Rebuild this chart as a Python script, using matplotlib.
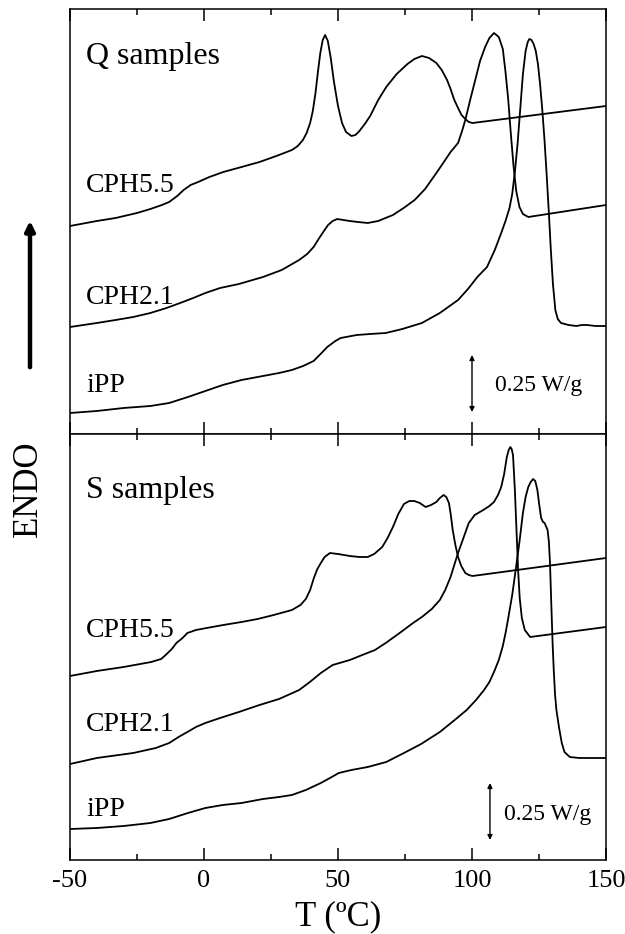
import matplotlib
matplotlib.use('Agg')
import matplotlib.pyplot as plt
from matplotlib.patches import FancyArrowPatch
from matplotlib.ticker import MultipleLocator

plt.rcParams['font.family'] = ['Liberation Serif', 'DejaVu Serif']

# ---------------- data (heat flow in arbitrary offset units, 57 units = 0.25 W/g) -------------
# Q samples
q_cph55_T = [-50, -40, -33, -25, -20, -15.7, -13, -10, -7.6, -5, -2.2, 2, 7.2, 14, 20.7, 27, 32.8, 35,
             36.9, 38.3, 39.6, 40.6, 41.6, 42.5, 43.4, 44.3, 45.2, 46.2, 47.3, 48.5, 50, 51.5, 53, 55,
             56.5, 58, 60, 62, 65, 68, 71.9, 75.9, 78.5, 81.3, 84, 86.7, 88.7, 90.7, 92, 93.4, 94.8,
             96.1, 97.5, 98.8, 100.2, 150]
q_cph55_H = [208, 213, 216, 221, 225, 229, 232, 238, 244, 249, 252, 257, 262, 267, 272, 278, 284, 288,
             294, 301, 311, 323, 341, 362, 381, 394, 399, 393, 376, 352, 328, 311, 302, 298,
             299, 303, 310, 318, 334, 347, 360, 370, 375, 378, 376, 371, 364, 354, 345, 334, 326,
             319, 315, 312, 311, 328]

q_cph21_T = [-50, -40, -33, -26.4, -20, -14, -8.9, -4, 0.5, 6, 13, 22, 29, 35.5, 38.5, 40.9, 43, 45,
             46.3, 48, 49.7, 52, 54.4, 57.5, 61.1, 65, 70.5, 74.5, 78.6, 82.5, 86.7, 89.5, 92, 94.8,
             96.3, 97.5, 99.5, 101.5, 103, 104.9, 106.5, 108.2, 110, 111.5, 112.5, 113.5, 114.5, 115.5,
             116.5, 117.7, 119, 121, 150]
q_cph21_H = [107, 111, 114, 117, 121, 126, 131, 136, 141, 146, 150, 157, 164, 174, 180, 187, 196, 204,
             209, 213, 215, 214, 213, 212, 211, 213, 219, 226, 234, 245, 261, 272, 282, 291,
             303, 314, 336, 357, 373, 387, 396, 401, 397, 385, 362, 335, 300, 268,
             243, 227, 220, 217, 229]

q_ipp_T = [-50, -40, -30, -20, -13, -6, 0.5, 7, 14, 22, 28, 32.8, 37, 40.9, 43.5, 46, 49, 51, 53, 57,
           62, 67.8, 74, 81.3, 88, 94.8, 98.5, 102, 105.6, 108.5, 110.9, 112.5, 114, 115, 116, 117, 118,
           119, 120, 120.8, 121.4, 122.2, 123, 123.8, 124.6, 125.4, 126.2, 127, 127.8, 128.6, 129.4,
           130.2, 131.1, 132, 133.2, 136, 139, 141, 143, 146, 150]
q_ipp_H = [21, 23, 26, 28, 31, 37, 43, 49, 54, 58, 61, 64, 68, 73, 80, 87, 93, 96, 97, 99,
           100, 101, 105, 111, 121, 134, 145, 157, 167, 184, 201, 213, 226, 240, 262, 290, 325,
           360, 383, 392, 395, 394, 390, 383, 370, 350, 325, 296, 262, 225, 185,
           150, 124, 115, 111, 109, 108, 109, 109, 108, 108]

# S samples
s_cph55_T = [-50, -40, -30, -19.7, -16, -14.3, -12, -10.3, -8, -6.2, -3, 1, 7.2, 14, 20, 26, 32.8, 36,
             38, 39.6, 41, 42.3, 43.6, 45, 47, 50, 54.4, 58, 61.1, 63.5, 66.5, 68.5, 70.5, 72.5, 74.6,
             76.6, 78.5, 80.5, 82.7, 84.7, 86.7, 88, 89.4, 90.4, 91.4, 92.1, 92.8, 93.8, 94.8, 96,
             97.5, 98.8, 100.2, 150]
s_cph55_H = [184, 189, 193, 198, 201, 205, 211, 217, 222, 227, 230, 232, 235, 238, 241, 245, 250, 255,
             261, 270, 282, 291, 297, 303, 307, 306, 304, 303, 303, 306, 313, 322, 333, 346, 356,
             359, 359, 357, 353, 355, 358, 362, 365, 363, 357, 345, 330, 315, 303, 294,
             287, 285, 284, 302]

s_cph21_T = [-50, -40, -26.4, -18, -13, -9.5, -6.2, -3, 0.5, 6, 13, 20.7, 28, 35.5, 39.5, 43.6, 48,
             54.4, 60, 63.8, 67.8, 73, 78, 81.3, 85, 88, 90, 92, 93.5, 94.8, 96.8, 98.8, 101, 104.2,
             106.5, 108.2, 109.7, 110.9, 112, 113, 113.7, 114.3, 114.8, 115.3, 116, 116.6, 117.2, 117.8,
             118.6, 119.7, 121.7, 150]
s_cph21_H = [96, 102, 107, 112, 117, 123, 128, 133, 137, 142, 148, 155, 161, 170, 178, 187, 195,
             200, 206, 210, 217, 227, 237, 243, 251, 260, 270, 283, 296, 307, 322, 337, 345, 350,
             354, 358, 365, 373, 386, 403, 410, 413, 411, 405, 370, 330, 290, 262,
             242, 230, 223, 233]

s_ipp_T = [-50, -40, -30, -20, -13, -6, 0.5, 7, 14, 22, 28, 32.8, 38, 43.6, 47, 50.3, 55, 61.1, 68,
           74.6, 81, 88, 94, 98, 101.5, 104.5, 106.5, 108.2, 110, 111.5, 112.6, 113.6, 115, 116.3,
           117.7, 119, 120, 121, 121.9, 122.8, 123.6, 124.4, 125.1, 125.8, 126.5, 127.1, 128.2, 128.7,
           129.1, 129.6, 130.1, 130.5, 131, 131.5, 132.5, 133.5, 134.5, 136.5, 140, 150]
s_ipp_H = [31, 32, 34, 37, 41, 47, 52, 55, 57, 61, 63, 65, 70, 77, 82, 87, 90, 93, 98,
           107, 116, 128, 141, 150, 160, 170, 178, 188, 200, 214, 228, 243, 265, 290,
           318, 347, 363, 373, 378, 381, 379, 370, 355, 342, 338, 337, 330, 318,
           297, 255, 215, 190, 165, 150, 132, 117, 108, 103, 102, 102]

sample_labels = ['CPH5.5', 'CPH2.1', 'iPP']
panel_titles = ['Q samples', 'S samples']
x_ticks = [-50, 0, 50, 100, 150]
scale_label = '0.25 W/g'
scale_height = 57          # units equal to 0.25 W/g

# ---------------- figure ----------------
W, H = 625, 934
fig = plt.figure(figsize=(W / 100, H / 100), dpi=100)


def ax_rect(left, top, right, bottom):
    return [left / W, 1 - bottom / H, (right - left) / W, (bottom - top) / H]


ax_top = fig.add_axes(ax_rect(70, 9, 606, 434))
ax_bot = fig.add_axes(ax_rect(70, 434, 606, 860))

lw = 1.3
for ax, curves in [
    (ax_top, [(q_cph55_T, q_cph55_H), (q_cph21_T, q_cph21_H), (q_ipp_T, q_ipp_H)]),
    (ax_bot, [(s_cph55_T, s_cph55_H), (s_cph21_T, s_cph21_H), (s_ipp_T, s_ipp_H)]),
]:
    for T, Hf in curves:
        ax.plot(T, Hf, color='black', lw=lw, solid_joinstyle='round', solid_capstyle='round')
    ax.set_xlim(-50, 150)
    ax.xaxis.set_major_locator(MultipleLocator(50))
    ax.xaxis.set_minor_locator(MultipleLocator(25))
    ax.tick_params(axis='x', which='both', direction='in', top=True, bottom=True, width=1.1)
    ax.tick_params(axis='x', which='major', length=8.5)
    ax.tick_params(axis='x', which='minor', length=4.5)
    ax.set_yticks([])
    for s in ax.spines.values():
        s.set_linewidth(1.1)

ax_top.set_ylim(0, 425)
ax_bot.set_ylim(0, 426)
ax_top.tick_params(axis='x', labelbottom=False)
ax_bot.set_xticks(x_ticks)
ax_bot.set_xticklabels([str(v) for v in x_ticks])
ax_bot.tick_params(axis='x', which='major', labelsize=19, pad=7)
ax_bot.set_xlabel('T (ºC)', fontsize=25, labelpad=6)

# labels
ax_top.text(-44, 370, panel_titles[0], fontsize=23, ha='left', va='baseline')
ax_bot.text(-44, 362, panel_titles[1], fontsize=23, ha='left', va='baseline')
for y, lab in zip([242, 130, 42], sample_labels):
    ax_top.text(-44, y, lab, fontsize=20, ha='left', va='baseline')
for y, lab in zip([223, 129, 44], sample_labels):
    ax_bot.text(-44, y, lab, fontsize=20, ha='left', va='baseline')

# scale bars
for ax, xb, y0, xt, yt in [(ax_top, 100, 22, 108.5, 43), (ax_bot, 106.7, 20, 112, 40)]:
    ax.annotate('', xy=(xb, y0 + scale_height), xytext=(xb, y0),
                arrowprops=dict(arrowstyle='<|-|>', lw=1.0, color='black',
                                mutation_scale=7, shrinkA=0, shrinkB=0))
    ax.text(xt, yt, scale_label, fontsize=17, ha='left', va='baseline')

# ENDO arrow and label
fig.add_artist(FancyArrowPatch((30, H - 370), (30, H - 218), transform=None,
                               arrowstyle='-|>', mutation_scale=14, lw=3.2, color='black'))
fig.text(28 / W, 1 - 489 / H, 'ENDO', fontsize=25, rotation=90, ha='center', va='center')

fig.savefig('out.png', dpi=100)
